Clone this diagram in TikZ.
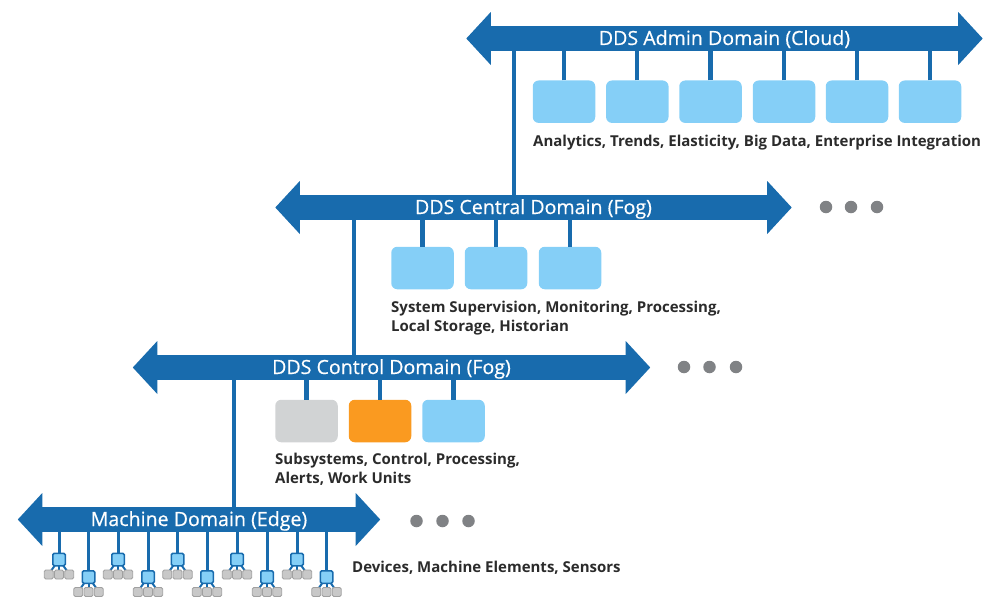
\documentclass[tikz,border=0pt]{standalone}
\usepackage{fontspec}
\setmainfont{Open Sans}
\newfontfamily\titlefont{Open Sans}[FakeBold=0.45]
\definecolor{busblue}{HTML}{186BAD}
\definecolor{boxblue}{HTML}{85CFF7}
\definecolor{boxgrey}{HTML}{D1D3D4}
\definecolor{boxorange}{HTML}{FA9A20}
\definecolor{dotgrey}{HTML}{808285}
\definecolor{labelink}{HTML}{2B2B2B}
\definecolor{leafgrey}{HTML}{C8C8C8}
\definecolor{leafedge}{HTML}{A0A0A0}
\tikzset{
  x=1pt,y=-1pt,
  busbar/.style={fill=busblue,text=white,inner sep=0pt,minimum height=25pt,text height=14pt,text depth=1pt,font=\titlefont\fontsize{19.6}{20}\selectfont},
  head/.style={fill=busblue,draw=none},
  wire/.style={draw=busblue,line width=4.2pt},
  trunk/.style={draw=busblue,line width=4pt},
  thinwire/.style={draw=busblue,line width=3pt},
  svc/.style={rounded corners=6pt,minimum width=62.5pt,minimum height=42.5pt,inner sep=0pt,fill=boxblue},
  lbl/.style={text=labelink,inner sep=0pt,anchor=north west,align=left,font=\bfseries\fontsize{15}{19.4}\selectfont},
  gdot/.style={circle,fill=dotgrey,minimum size=12.5pt,inner sep=0pt},
  mini/.style={rounded corners=1.5pt,draw=busblue,line width=1.5pt,fill=boxblue,minimum width=12.5pt,minimum height=12.5pt,inner sep=0pt},
  leaf/.style={rounded corners=1.5pt,draw=leafedge,line width=.8pt,fill=leafgrey,minimum width=9pt,minimum height=9pt,inner sep=0pt},
}
\newcommand{\busheads}[1]{%
  \fill[head] (#1.west) ++(.5,-26.5) -- ++(-24.5,26.5) -- ++(24.5,26.5) -- cycle;
  \fill[head] (#1.east) ++(-.5,-26.5) -- ++(24.5,26.5) -- ++(-24.5,26.5) -- cycle;
}
% name, x of stem, y of mini box
\newcommand{\device}[3]{%
  \draw[draw=busblue,line width=2pt] (#2,#3) -- (#2-10.5,#3+15);
  \draw[draw=busblue,line width=2pt] (#2,#3) -- (#2,#3+15);
  \draw[draw=busblue,line width=2pt] (#2,#3) -- (#2+10.5,#3+15);
  \node[mini] (#1) at (#2,#3) {};
  \node[leaf] (#1a) at (#2-10.2,#3+15) {};
  \node[leaf] (#1b) at (#2,#3+15) {};
  \node[leaf] (#1c) at (#2+10.2,#3+15) {};
  \draw[thinwire] (#1.north) -- (#1 |- mach.south);
}
\begin{document}
\begin{tikzpicture}
\useasboundingbox (0,0) rectangle (997,613);
% buses
\node[busbar,minimum width=468pt] (admin) at (724.5,38.5) {DDS Admin Domain (Cloud)};
\node[busbar,minimum width=468pt] (central) at (533.5,207.5) {DDS Central Domain (Fog)};
\node[busbar,minimum width=469pt] (control) at (391.5,367.5) {DDS Control Domain (Fog)};
\node[busbar,minimum width=314pt] (mach) at (199,519.5) {Machine Domain (Edge)};
\busheads{admin}\busheads{central}\busheads{control}\busheads{mach}
% trunk lines
\coordinate (t1) at (513.5,38.5);
\coordinate (t2) at (353.5,207.5);
\coordinate (t3) at (233.5,367.5);
\draw[trunk] (t1 |- admin.south) -- (t1 |- central.north);
\draw[trunk] (t2 |- central.south) -- (t2 |- control.north);
\draw[trunk] (t3 |- control.south) -- (t3 |- mach.north);
% admin services
\foreach \n/\x in {1/564,2/637.3,3/710.5,4/784,5/857,6/930}{
  \node[svc] (a\n) at (\x,101.7) {};
  \draw[wire] (a\n.north) -- (a\n |- admin.south);
}
\node[lbl] (la) at (533,135) {Analytics, Trends, Elasticity, Big Data, Enterprise Integration};
% central services
\foreach \n/\x in {1/422.5,2/496,3/570}{
  \node[svc] (c\n) at (\x,268) {};
  \draw[wire] (c\n.north) -- (c\n |- central.south);
}
\node[lbl] (lc) at (391,301) {System Supervision, Monitoring, Processing,\\Local Storage, Historian};
% control services
\node[svc,fill=boxgrey] (k1) at (306.5,421) {};
\node[svc,fill=boxorange] (k2) at (380,421) {};
\node[svc] (k3) at (453.5,421) {};
\foreach \n in {k1,k2,k3}{\draw[wire] (\n.north) -- (\n |- control.south);}
\node[lbl] (lk) at (275,453) {Subsystems, Control, Processing,\\Alerts, Work Units};
% devices
\device{d1}{59}{559.5}
\device{d2}{88.5}{577}
\device{d3}{118}{559.5}
\device{d4}{148}{577}
\device{d5}{177.5}{559.5}
\device{d6}{207}{577}
\device{d7}{237}{559.5}
\device{d8}{267}{577}
\device{d9}{297}{559.5}
\device{d10}{326.5}{577}
\node[lbl] (lm) at (352,560.5) {Devices, Machine Elements, Sensors};
% dots
\foreach \n/\x/\y in {a/826/207,b/851/207,c/877/207,d/684/367,e/709.5/367,f/736/367,g/416.5/521,h/442.5/521,i/468.5/521}{
  \node[gdot] (dot\n) at (\x,\y) {};
}
\end{tikzpicture}
\end{document}
